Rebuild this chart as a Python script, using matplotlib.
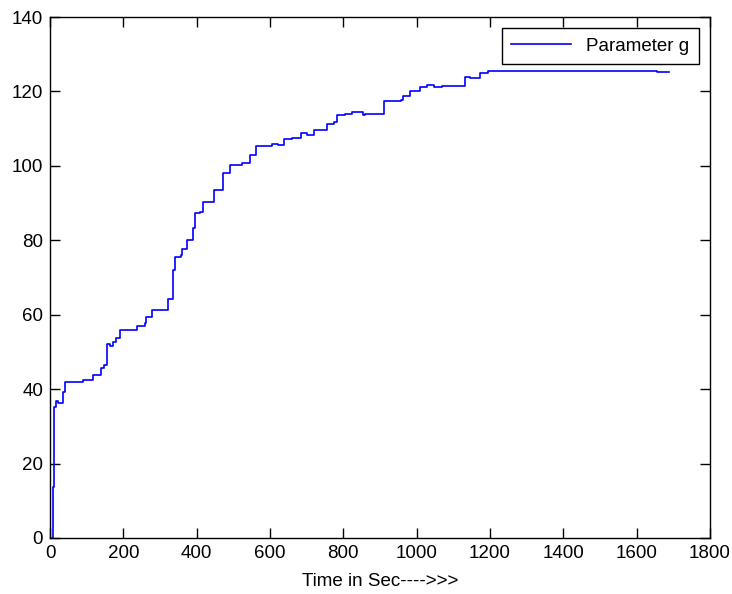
import matplotlib
matplotlib.use("Agg")
import matplotlib.pyplot as plt

plt.rcParams['font.family'] = ['Liberation Sans', 'DejaVu Sans']

# time (s) at which parameter g changes, and its value after the change
t = [2, 8, 12, 16, 22, 36, 42, 91, 118, 139, 147, 155, 163, 172, 180, 191,
     236, 259, 263, 277, 322, 336, 341, 357, 361, 374, 391, 395, 410, 417,
     423, 448, 471, 490, 523, 546, 562, 605, 623, 639, 659, 684, 702, 719,
     756, 775, 782, 805, 823, 838, 853, 858, 912, 958, 963, 981, 1008, 1028,
     1047, 1068, 1132, 1145, 1173, 1195, 1655, 1688]
g = [0, 13.8, 35.3, 36.8, 36.2, 39.3, 42.0, 42.4, 43.7, 45.8, 46.6, 52.0,
     51.6, 52.6, 53.8, 55.8, 57.1, 57.9, 59.4, 61.2, 64.2, 72.0, 75.4, 76.0,
     77.6, 80.2, 83.2, 87.4, 87.6, 90.4, 90.2, 93.4, 98.1, 100.3, 100.8,
     102.9, 105.3, 106.0, 105.6, 107.2, 107.6, 108.8, 108.4, 109.7, 111.2,
     111.9, 113.6, 114.0, 114.6, 114.4, 113.8, 114.0, 117.3, 117.6, 118.8,
     120.2, 121.1, 121.6, 121.3, 121.5, 124.0, 123.7, 124.9, 125.5, 125.2,
     125.2]

xticks = list(range(0, 1801, 200))
yticks = list(range(0, 141, 20))

fig = plt.figure(figsize=(7.32, 5.94), dpi=100)
ax = fig.add_axes([50/732, 56/594, 660/732, 521/594])

ax.plot(t, g, color='blue', lw=1.2, drawstyle='steps-post', label='Parameter g')

ax.set_xlim(0, 1800)
ax.set_ylim(0, 140)
ax.set_xticks(xticks)
ax.set_yticks(yticks)
ax.tick_params(direction='in', length=7, width=1, top=True, right=True,
               labelsize=13.5, pad=5)
for s in ax.spines.values():
    s.set_linewidth(1)
ax.set_xlabel('Time in Sec---->>>', fontsize=13.5, labelpad=8)

leg = ax.legend(loc='upper right', fontsize=13.5, handlelength=3.2,
                fancybox=False, framealpha=1, edgecolor='black',
                borderaxespad=0.6, borderpad=0.5)
leg.get_frame().set_linewidth(1)

fig.savefig('out.png', dpi=100)
